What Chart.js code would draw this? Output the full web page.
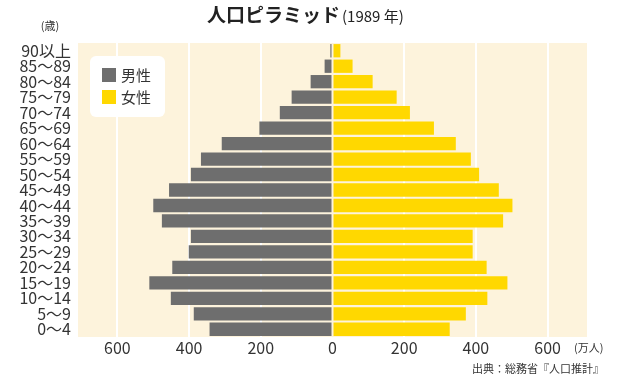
<!DOCTYPE html>
<html>
<head>
<meta charset="utf-8">
<script src="https://cdn.jsdelivr.net/npm/chart.js@4/dist/chart.umd.min.js"></script>
<style>
  html, body { margin: 0; padding: 0; background: #fff; }
  #wrap { width: 640px; height: 389px; }
</style>
</head>
<body>
<div id="wrap"><canvas id="pyramid"></canvas></div>
<script>
// 年齢階級（上から）
const ageGroups = ['90以上', '85〜89', '80〜84', '75〜79', '70〜74', '65〜69', '60〜64', '55〜59', '50〜54', '45〜49',
  '40〜44', '35〜39', '30〜34', '25〜29', '20〜24', '15〜19', '10〜14', '5〜9', '0〜4'];
// 男性（万人）
const maleValues = [6, 22, 61, 114, 147, 204, 309, 367, 395, 456, 500, 476, 395, 401, 447, 511, 451, 387, 343];
// 女性（万人）
const femaleValues = [22, 56, 112, 179, 216, 283, 344, 386, 409, 464, 502, 476, 391, 391, 430, 488, 432, 372, 327];
// 横軸の目盛り
const xTicks = [-600, -400, -200, 0, 200, 400, 600];

const FONT = '"Noto Sans CJK JP", "Noto Sans", sans-serif';

// 背景・タイトル・注記
const decor = {
  id: 'decor',
  beforeDraw(chart) {
    const { ctx, chartArea: a } = chart;
    ctx.save();
    ctx.fillStyle = '#fdf3dc';
    ctx.fillRect(a.left, a.top, a.right - a.left, a.bottom - a.top);
    ctx.restore();
  },
  afterDraw(chart) {
    const { ctx } = chart;
    ctx.save();
    ctx.fillStyle = '#222';
    ctx.textBaseline = 'middle';
    ctx.font = 'bold 19px ' + FONT;
    ctx.textAlign = 'left';
    ctx.fillText('人口ピラミッド', 207, 15);
    ctx.font = '15px ' + FONT;
    ctx.fillText('(1989 年)', 342, 16);

    ctx.fillStyle = '#333';
    ctx.font = '11px ' + FONT;
    ctx.textAlign = 'center';
    ctx.fillText('(歳)', 50, 26);
    ctx.textAlign = 'left';
    ctx.fillText('(万人)', 574, 348);
    ctx.textAlign = 'right';
    ctx.fillText('出典：総務省『人口推計』', 604, 369);

    // 凡例
    ctx.fillStyle = '#ffffff';
    ctx.beginPath();
    ctx.roundRect(90, 56, 75, 61, 6);
    ctx.fill();
    ctx.fillStyle = '#6e6e6e';
    ctx.fillRect(102, 68, 14, 14);
    ctx.fillStyle = '#ffd800';
    ctx.fillRect(102, 90, 14, 14);
    ctx.fillStyle = '#333';
    ctx.font = '15px ' + FONT;
    ctx.textAlign = 'left';
    ctx.fillText('男性', 121, 75);
    ctx.fillText('女性', 121, 97);
    ctx.restore();
  }
};

new Chart(document.getElementById('pyramid'), {
  type: 'bar',
  data: {
    labels: ageGroups,
    datasets: [
      {
        label: '男性',
        data: maleValues.map(v => -v),
        backgroundColor: '#6e6e6e',
        barPercentage: 0.86,
        categoryPercentage: 1
      },
      {
        label: '女性',
        data: femaleValues,
        backgroundColor: '#ffd800',
        barPercentage: 0.86,
        categoryPercentage: 1
      }
    ]
  },
  options: {
    indexAxis: 'y',
    responsive: true,
    maintainAspectRatio: false,
    animation: false,
    layout: { padding: { top: 43, right: 53, bottom: 0, left: 0 } },
    plugins: {
      legend: { display: false },
      tooltip: { enabled: false }
    },
    scales: {
      x: {
        stacked: true,
        min: -710,
        max: 710,
        afterBuildTicks: axis => { axis.ticks = xTicks.map(v => ({ value: v })); },
        afterFit: axis => { axis.height = 52; },
        border: { display: false },
        grid: {
          color: ctx => (ctx.tick && ctx.tick.value === 0 ? 'rgba(0,0,0,0)' : '#ffffff'),
          lineWidth: 2,
          drawTicks: false
        },
        ticks: {
          padding: 1,
          color: '#333',
          font: { family: FONT, size: 16 },
          callback: v => Math.abs(v)
        }
      },
      y: {
        stacked: true,
        afterFit: axis => { axis.width = 78; },
        border: { display: false },
        grid: { display: false, drawTicks: false },
        ticks: {
          padding: 7,
          color: '#333',
          font: { family: FONT, size: 16 },
          autoSkip: false
        }
      }
    }
  },
  plugins: [decor]
});
</script>
</body>
</html>
